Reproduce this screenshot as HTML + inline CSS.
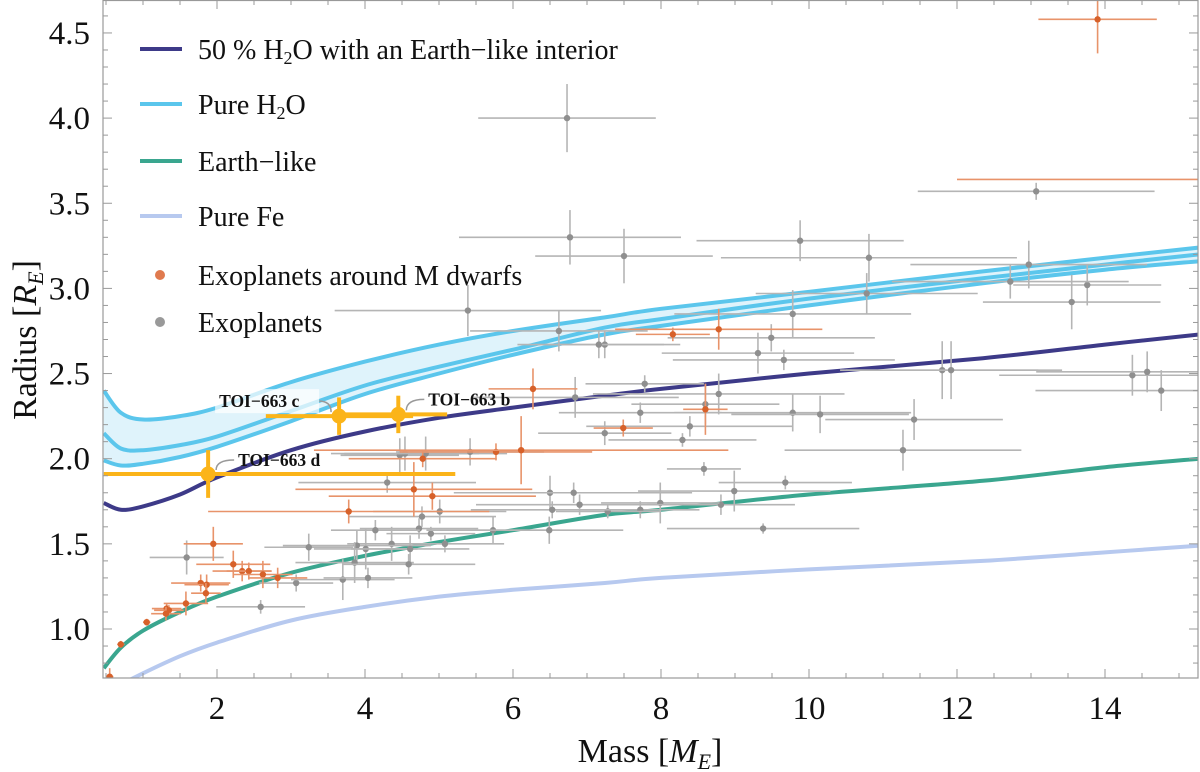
<!DOCTYPE html>
<html><head><meta charset="utf-8">
<style>
html,body{margin:0;padding:0;background:#fff;}
svg{display:block;font-family:"Liberation Serif",serif;}
</style></head>
<body>
<svg id="chart" width="1200" height="772" viewBox="0 0 1200 772" xmlns="http://www.w3.org/2000/svg">
<defs><clipPath id="clip"><rect x="103" y="0" width="1095" height="678"/></clipPath></defs>
<g id="plot" clip-path="url(#clip)"></g>
<g id="axes"></g>
</svg>
<script>
// ---- data ----
const xTicks=[2,4,6,8,10,12,14];
const yTicks=[1.0,1.5,2.0,2.5,3.0,3.5,4.0,4.5];
const modelMass=[0.47,0.7,1.0,1.5,2,3,4,5,6,7.24,8,10,12.35,14,15.28];
const h2oTop=[2.40,2.27,2.23,2.25,2.30,2.45,2.57,2.67,2.75,2.83,2.88,2.98,3.10,3.18,3.24];
const h2oMid=[2.15,2.06,2.05,2.08,2.13,2.28,2.43,2.54,2.64,2.77,2.82,2.94,3.06,3.14,3.20];
const h2oBot=[1.99,1.96,1.97,2.01,2.07,2.22,2.38,2.50,2.61,2.73,2.78,2.90,3.03,3.11,3.16];
const halfH2O=[1.74,1.70,1.72,1.79,1.89,2.05,2.16,2.24,2.30,2.37,2.41,2.50,2.59,2.67,2.73];
const earthLike=[0.77,0.89,0.99,1.10,1.19,1.33,1.43,1.51,1.58,1.67,1.70,1.79,1.87,1.95,2.00];
const pureFe=[0.58,0.67,0.74,0.84,0.92,1.05,1.13,1.19,1.23,1.27,1.30,1.35,1.40,1.45,1.49];
const grayMass=[6.73,6.77,7.5,9.88,10.81,13.07,13.55,13.76,12.72,12.97,10.78,9.78,7.24,9.49,9.31,9.66,7.78,8.78,8.6,7.72,7.24,8.39,8.29,9.78,10.15,11.8,11.92,14.37,14.57,14.76,11.42,11.27,8.58,9.68,8.99,8.81,7.99,7.72,7.28,9.38,5.39,6.62,6.84,7.16,4.47,4.54,4.82,5.42,4.3,6.5,6.82,6.53,6.9,5.01,4.77,4.73,4.89,4.14,5.08,4.36,3.89,3.24,4.01,4.61,3.86,4.59,3.07,3.7,4.04,2.59,1.59,5.73,6.49];
const grayRad=[4.00,3.30,3.19,3.28,3.18,3.57,2.92,3.02,3.04,3.14,2.97,2.85,2.67,2.71,2.62,2.58,2.44,2.38,2.32,2.27,2.15,2.19,2.11,2.27,2.26,2.52,2.52,2.49,2.51,2.40,2.23,2.05,1.94,1.86,1.81,1.73,1.74,1.70,1.69,1.59,2.87,2.75,2.36,2.67,2.02,2.03,2.03,2.04,1.86,1.80,1.80,1.70,1.73,1.69,1.66,1.59,1.56,1.58,1.50,1.50,1.49,1.48,1.47,1.47,1.39,1.38,1.27,1.29,1.30,1.13,1.42,1.58,1.58];
const grayMassErr=[1.2,1.5,1.2,1.4,2.0,1.6,1.2,1.0,1.6,1.6,1.5,1.6,0.8,1.4,1.3,1.5,0.8,1.7,1.0,1.1,0.9,1.4,1.0,1.6,1.2,1.3,1.5,1.8,1.5,1.7,1.2,1.6,0.5,0.9,1.3,1.0,0.8,0.8,0.7,1.3,1.8,1.2,1.4,1.1,0.8,1.0,1.1,1.0,1.2,1.3,1.6,1.1,1.4,0.9,1.0,0.8,0.6,0.6,0.8,0.6,1.0,0.6,0.7,0.8,0.8,0.9,0.5,0.7,0.6,0.6,0.5,0.9,1.0];
const grayRadErr=[0.2,0.16,0.16,0.12,0.14,0.05,0.16,0.12,0.1,0.14,0.12,0.14,0.08,0.08,0.12,0.06,0.05,0.12,0.12,0.06,0.07,0.06,0.04,0.11,0.11,0.17,0.17,0.12,0.12,0.12,0.12,0.12,0.04,0.04,0.12,0.06,0.12,0.05,0.04,0.03,0.15,0.12,0.12,0.08,0.1,0.1,0.1,0.08,0.06,0.1,0.06,0.05,0.06,0.07,0.06,0.06,0.04,0.06,0.05,0.1,0.09,0.08,0.12,0.08,0.12,0.06,0.05,0.12,0.06,0.04,0.1,0.08,0.08];
const mMass=[13.9,16.5,8.16,8.78,8.6,7.49,6.27,5.77,6.11,4.78,4.66,4.91,3.78,1.95,2.22,2.34,2.43,2.62,2.82,1.78,1.86,1.85,1.58,1.32,1.35,1.31,1.05,0.7,0.55];
const mRad=[4.58,3.64,2.73,2.76,2.29,2.18,2.41,2.04,2.05,2.00,1.82,1.78,1.69,1.50,1.38,1.34,1.34,1.32,1.30,1.27,1.26,1.21,1.15,1.12,1.11,1.09,1.04,0.91,0.72];
const mMassErr=[0.8,4.5,0.5,1.4,0.3,0.4,0.6,1.3,2.8,1.0,1.6,1.4,1.9,0.4,0.5,0.4,0.3,0.4,0.4,0.4,0.3,0.2,0.3,0.2,0.2,0.2,0.05,0.05,0.05];
const mRadErr=[0.2,0.0,0.04,0.12,0.15,0.05,0.12,0.05,0.2,0.05,0.16,0.08,0.07,0.1,0.08,0.06,0.05,0.08,0.06,0.05,0.06,0.06,0.07,0.03,0.03,0.04,0.02,0.02,0.05];
const toiNames=["TOI−663 d","TOI−663 c","TOI−663 b"];
const toiMass=[1.88,3.65,4.45];
const toiMassLo=[1.41,0.99,0.85];
const toiMassHi=[3.34,1.0,0.66];
const toiRad=[1.91,2.25,2.26];
const toiRadErr=[0.14,0.11,0.11];

// ---- scales ----
const X=m=>217+(m-2)*74;
const Y=r=>629-(r-1)*170.3;
const NS="http://www.w3.org/2000/svg";
function mk(tag,attrs,parent){const e=document.createElementNS(NS,tag);for(const k in attrs)e.setAttribute(k,attrs[k]);parent.appendChild(e);return e;}
const plot=document.getElementById('plot'),axes=document.getElementById('axes');

function smoothPath(pts,move){
  let d=(move?"M":"L")+pts[0][0].toFixed(1)+","+pts[0][1].toFixed(1);
  for(let i=0;i<pts.length-1;i++){
    const p0=pts[Math.max(0,i-1)],p1=pts[i],p2=pts[i+1],p3=pts[Math.min(pts.length-1,i+2)];
    const c1=[p1[0]+(p2[0]-p0[0])/6,p1[1]+(p2[1]-p0[1])/6];
    const c2=[p2[0]-(p3[0]-p1[0])/6,p2[1]-(p3[1]-p1[1])/6];
    d+=` C${c1[0].toFixed(1)},${c1[1].toFixed(1)} ${c2[0].toFixed(1)},${c2[1].toFixed(1)} ${p2[0].toFixed(1)},${p2[1].toFixed(1)}`;
  }
  return d;
}
const ptsOf=arr=>modelMass.map((m,i)=>[X(m),Y(arr[i])]);

const band=smoothPath(ptsOf(h2oTop),true)+" "+smoothPath(ptsOf(h2oBot).reverse(),false)+"Z";
const bandEl=mk('path',{d:band,fill:"#dff3fb",stroke:"none"},plot);


function curve(arr,color,w,name){
  const p=mk('path',{d:smoothPath(ptsOf(arr),true),fill:"none",stroke:color,"stroke-width":w,"stroke-linejoin":"round"},plot);
  
  
}
curve(pureFe,"#b7c9ef",4,"pure-fe-curve");
curve(earthLike,"#3aa68f",4,"earth-like-curve");
curve(halfH2O,"#3d3a88",4,"half-h2o-curve");
curve(h2oTop,"#5bc6ec",4,"pure-h2o-upper-curve");
curve(h2oMid,"#5bc6ec",4,"pure-h2o-mid-curve");
curve(h2oBot,"#5bc6ec",4,"pure-h2o-lower-curve");

function points(ms,rs,me,re,color,barColor,name){
  ms.forEach((m,i)=>{
    const g=mk('g',{},plot);
    
    
    mk('line',{x1:X(m-me[i]),x2:X(m+me[i]),y1:Y(rs[i]),y2:Y(rs[i]),stroke:barColor,"stroke-width":1.6},g);
    mk('line',{x1:X(m),x2:X(m),y1:Y(rs[i]-re[i]),y2:Y(rs[i]+re[i]),stroke:barColor,"stroke-width":1.6},g);
    mk('circle',{cx:X(m),cy:Y(rs[i]),r:3.2,fill:color},g);
  });
}
points(grayMass,grayRad,grayMassErr,grayRadErr,"#8f8f8f","#b5b5b5","exoplanet-point");
points(mMass,mRad,mMassErr,mRadErr,"#d7612a","#e8936a","m-dwarf-exoplanet-point");

toiMass.forEach((m,i)=>{
  const g=mk('g',{},plot);
  
  
  mk('line',{x1:X(m-toiMassLo[i]),x2:X(m+toiMassHi[i]),y1:Y(toiRad[i]),y2:Y(toiRad[i]),stroke:"#fbb419","stroke-width":4},g);
  mk('line',{x1:X(m),x2:X(m),y1:Y(toiRad[i]-toiRadErr[i]),y2:Y(toiRad[i]+toiRadErr[i]),stroke:"#fbb419","stroke-width":4},g);
  mk('circle',{cx:X(m),cy:Y(toiRad[i]),r:7.5,fill:"#fbb419"},g);
});
const labelDx=[30,-120,30],labelDy=[-14,-15,-15];
toiMass.forEach((m,i)=>{
  const x=X(m),y=Y(toiRad[i]);
  const lx=x+labelDx[i],ly=y+labelDy[i];
  const cx=i===1? x-8 : x+8;
  mk('path',{d:`M${cx},${y-4} Q${cx},${ly} ${i===1?lx+100:lx-4},${ly}`,fill:"none",stroke:"#999","stroke-width":1.5},plot);
  if(i===1) mk('rect',{x:lx-4,y:ly-12,width:104,height:24,fill:"#fff","fill-opacity":0.7},plot);
  const t=mk('text',{x:lx,y:ly+6,"font-size":17.5,"font-weight":"bold",fill:"#111"},plot);
  t.textContent=toiNames[i];
  
  
});

mk('rect',{x:103,y:0.5,width:1095,height:677.5,fill:"none",stroke:"#999","stroke-width":1.2},axes);
for(let v=0.5;v<=15.25;v+=0.5){
  const x=X(v); if(x<104)continue;
  const major=Math.abs(v-Math.round(v/2)*2)<1e-6;
  const len=major?9:5;
  mk('line',{x1:x,x2:x,y1:678,y2:678-len,stroke:"#999","stroke-width":1},axes);
  mk('line',{x1:x,x2:x,y1:0,y2:len,stroke:"#999","stroke-width":1},axes);
}
for(let k=8;k<=46;k++){
  const v=k/10,y=Y(v); if(y<1||y>677)continue;
  const major=k%5===0;const len=major?9:5;
  mk('line',{x1:103,x2:103+len,y1:y,y2:y,stroke:"#999","stroke-width":1},axes);
  mk('line',{x1:1198,x2:1198-len,y1:y,y2:y,stroke:"#999","stroke-width":1},axes);
}
xTicks.forEach(v=>{const t=mk('text',{x:X(v),y:719,"text-anchor":"middle","font-size":33,fill:"#111"},axes);t.textContent=v;
});
yTicks.forEach(v=>{const t=mk('text',{x:90,y:Y(v)+11,"text-anchor":"end","font-size":33,fill:"#111"},axes);t.textContent=v.toFixed(1);
});
</script>
<svg style="position:absolute;left:0;top:0" width="1200" height="772">
<text x="650" y="762" text-anchor="middle" font-family="Liberation Serif, serif" font-size="34" fill="#111">Mass [<tspan font-style="italic">M</tspan><tspan font-style="italic" font-size="22" dy="7">E</tspan><tspan dy="-7">]</tspan></text>
<text transform="translate(36,340) rotate(-90)" text-anchor="middle" font-family="Liberation Serif, serif" font-size="34" fill="#111">Radius [<tspan font-style="italic">R</tspan><tspan font-style="italic" font-size="22" dy="7">E</tspan><tspan dy="-7">]</tspan></text>
<g font-family="Liberation Serif, serif" font-size="28" fill="#111">
<g><line x1="140" x2="182" y1="49" y2="49" stroke="#3d3a88" stroke-width="4"/><text x="198" y="59">50 % H<tspan font-size="18" dy="5">2</tspan><tspan dy="-5">O with an Earth−like interior</tspan></text></g>
<g><line x1="140" x2="182" y1="104" y2="104" stroke="#5bc6ec" stroke-width="4"/><text x="198" y="114">Pure H<tspan font-size="18" dy="5">2</tspan><tspan dy="-5">O</tspan></text></g>
<g><line x1="140" x2="182" y1="161" y2="161" stroke="#3aa68f" stroke-width="4"/><text x="198" y="171">Earth−like</text></g>
<g><line x1="140" x2="182" y1="216" y2="216" stroke="#b7c9ef" stroke-width="4"/><text x="198" y="226">Pure Fe</text></g>
<g><circle cx="160" cy="275" r="5" fill="#e07a4e"/><text x="198" y="285">Exoplanets around M dwarfs</text></g>
<g><circle cx="160" cy="322" r="5" fill="#999"/><text x="198" y="332">Exoplanets</text></g>
</g>
</svg>
</body></html>
